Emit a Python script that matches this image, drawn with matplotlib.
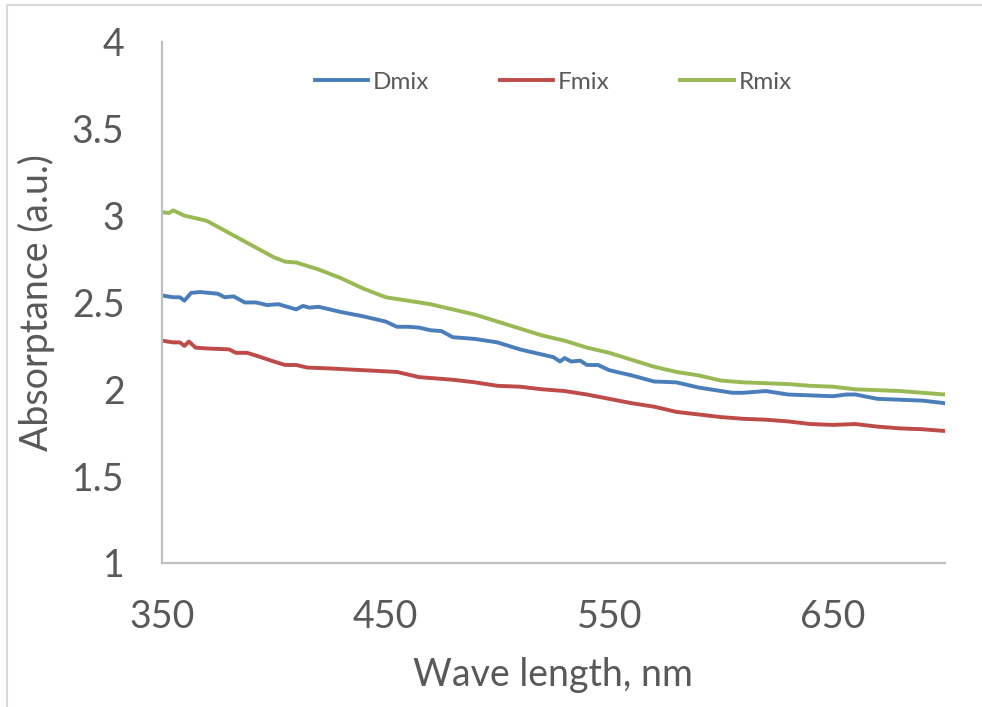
import matplotlib.pyplot as plt
from matplotlib.lines import Line2D

plt.rcParams['font.family'] = ['Lato', 'DejaVu Sans']

# values
dmix_wl = [350, 355, 358, 360, 363, 367, 375, 378, 382, 387, 392, 397, 402, 410, 413,
           416, 420, 425, 430, 440, 450, 455, 460, 465, 470, 475, 480, 490, 495, 500,
           510, 520, 525, 528, 530, 533, 537, 540, 545, 550, 560, 570, 580, 590, 600,
           605, 610, 620, 630, 640, 650, 656, 660, 670, 680, 690, 700]
dmix = [2.54, 2.53, 2.53, 2.51, 2.555, 2.56, 2.55, 2.53, 2.535, 2.50, 2.50, 2.485, 2.49,
        2.46, 2.48, 2.47, 2.475, 2.46, 2.445, 2.42, 2.39, 2.36, 2.36, 2.355, 2.34, 2.335,
        2.30, 2.29, 2.28, 2.27, 2.23, 2.20, 2.185, 2.16, 2.18, 2.16, 2.165, 2.14, 2.14,
        2.11, 2.08, 2.045, 2.04, 2.01, 1.99, 1.98, 1.98, 1.99, 1.97, 1.965, 1.96, 1.97,
        1.97, 1.945, 1.94, 1.935, 1.92]

fmix_wl = [350, 355, 358, 360, 362, 365, 370, 380, 383, 388, 393, 400, 405, 410, 415,
           425, 440, 455, 465, 475, 480, 490, 500, 510, 520, 530, 540, 550, 560, 570,
           580, 590, 600, 610, 620, 630, 640, 650, 660, 670, 680, 690, 700]
fmix = [2.28, 2.27, 2.27, 2.25, 2.275, 2.24, 2.235, 2.23, 2.21, 2.21, 2.19, 2.16, 2.14,
        2.14, 2.125, 2.12, 2.11, 2.10, 2.07, 2.06, 2.055, 2.04, 2.02, 2.015, 2.00, 1.99,
        1.97, 1.945, 1.92, 1.90, 1.87, 1.855, 1.84, 1.83, 1.825, 1.815, 1.80, 1.795,
        1.80, 1.785, 1.775, 1.77, 1.76]

rmix_wl = [350, 353, 355, 360, 370, 380, 390, 400, 405, 410, 420, 430, 440, 450, 460,
           470, 480, 490, 500, 510, 520, 530, 540, 550, 560, 570, 580, 590, 600, 610,
           620, 630, 640, 650, 660, 670, 680, 690, 700]
rmix = [3.02, 3.015, 3.03, 3.00, 2.97, 2.90, 2.83, 2.76, 2.735, 2.73, 2.69, 2.64, 2.58,
        2.53, 2.51, 2.49, 2.46, 2.43, 2.39, 2.35, 2.31, 2.28, 2.24, 2.21, 2.17, 2.13,
        2.10, 2.08, 2.05, 2.04, 2.035, 2.03, 2.02, 2.015, 2.00, 1.995, 1.99, 1.98, 1.97]

x_ticks = [350, 450, 550, 650]
y_ticks = [1, 1.5, 2, 2.5, 3, 3.5, 4]
y_tick_labels = ['1', '1.5', '2', '2.5', '3', '3.5', '4']

fig = plt.figure(figsize=(9.82, 7.07), dpi=100)
ax = fig.add_axes([0.165, 0.2037, 0.797, 0.737])

ax.plot(dmix_wl, dmix, color='#4a7ebb', lw=2.8, label='Dmix')
ax.plot(fmix_wl, fmix, color='#be4b48', lw=2.8, label='Fmix')
ax.plot(rmix_wl, rmix, color='#98b954', lw=2.8, label='Rmix')

ax.set_xlim(350, 700)
ax.set_ylim(1, 4)
ax.set_xticks(x_ticks)
ax.set_yticks(y_ticks)
ax.set_yticklabels(y_tick_labels)

for s in ['top', 'right']:
    ax.spines[s].set_visible(False)
for s in ['left', 'bottom']:
    ax.spines[s].set_color('#bfbfbf')
    ax.spines[s].set_linewidth(1.6)

ax.tick_params(length=0, labelsize=27, colors='#595959')
ax.tick_params(axis='x', pad=26)
ax.tick_params(axis='y', pad=27)

ax.set_xlabel('Wave length, nm', fontsize=27, color='#595959', labelpad=16)
ax.set_ylabel('Absorptance (a.u.)', fontsize=27, color='#595959', labelpad=12)

leg = ax.legend(loc='center', bbox_to_anchor=(0.5, 0.923), ncol=3, frameon=False,
                fontsize=17.5, handlelength=2.2, handletextpad=0.2, columnspacing=2.9)
for t in leg.get_texts():
    t.set_color('#595959')

# light grey chart border (cut off at right and bottom)
fig.add_artist(Line2D([0.007, 0.007], [0, 0.993], color='#d9d9d9', lw=1.5))
fig.add_artist(Line2D([0.007, 1.0], [0.993, 0.993], color='#d9d9d9', lw=1.5))

fig.savefig('out.png', dpi=100)
